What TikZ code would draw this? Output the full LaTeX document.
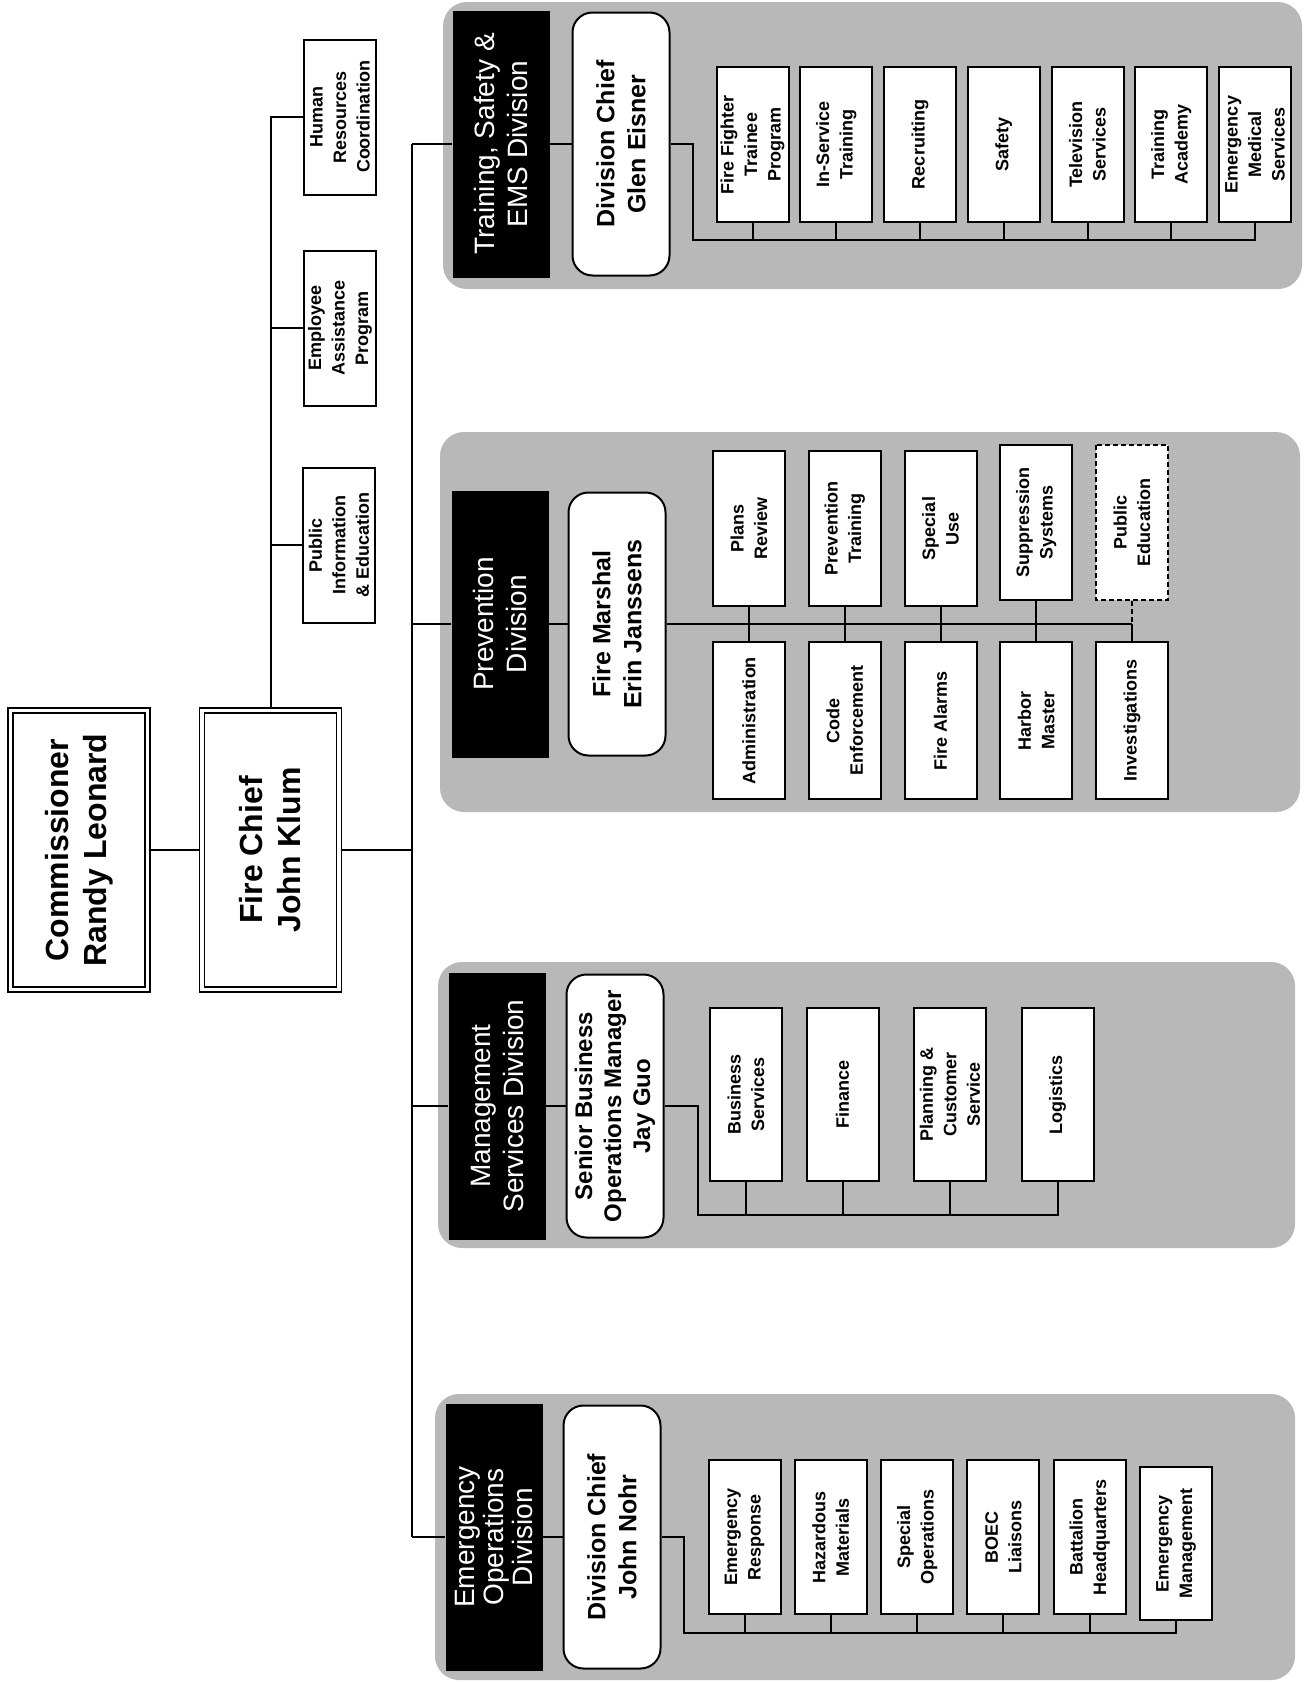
\documentclass[tikz,border=0pt]{standalone}
\usepackage{fontspec}
\setmainfont{Liberation Sans}
\begin{document}
\begin{tikzpicture}[x=1pt,y=-1pt,
  link/.style={line width=2pt},
  panel/.style={fill=black!28,rounded corners=24pt},
  bossbox/.style={draw,line width=1.6pt,double=white,double distance=3.5pt,fill=white,outer sep=3.4pt,rotate=90,minimum width=279pt,minimum height=137pt,inner sep=0pt,align=center,font=\bfseries\fontsize{32}{38}\selectfont},
  divhead/.style={fill=black,text=white,rotate=90,minimum width=267pt,minimum height=97pt,inner sep=0pt,align=center,font=\fontsize{28}{33}\selectfont},
  headbox/.style={draw,line width=2pt,fill=white,rounded corners=20pt,rotate=90,minimum width=263pt,minimum height=97pt,inner sep=0pt,align=center,font=\bfseries\fontsize{25}{31}\selectfont},
  unitbox/.style={draw,line width=2pt,fill=white,rotate=90,minimum width=155pt,minimum height=72pt,inner sep=0pt,align=center,font=\bfseries\fontsize{18}{23.5}\selectfont}]

\useasboundingbox (0,0) rectangle (1310,1684);
\fill[white] (0,0) rectangle (1310,1684);

% division panels
\fill[panel] (443,2) rectangle (1302,289);
\fill[panel] (440,432) rectangle (1300,812);
\fill[panel] (438,962) rectangle (1295,1248);
\fill[panel] (435,1394) rectangle (1295,1680);

% top
\node[bossbox] (comm) at (79,850) {Commissioner\\Randy Leonard};
\node[bossbox] (chief) at (270.5,850) {Fire Chief\\John Klum};

% staff
\node[unitbox] (hrc) at (340,117) {Human\\Resources\\Coordination};
\node[unitbox] (eap) at (340,328) {Employee\\Assistance\\Program};
\node[unitbox] (pie) at (339,545) {Public\\Information\\\& Education};

% divisions
\node[divhead] (tsed) at (501,144) {Training, Safety \&\\EMS Division};
\node[divhead] (prvd) at (500,624) {Prevention\\Division};
\node[divhead] (msd) at (497,1106) {Management\\Services Division};
\node[divhead,font=\fontsize{28}{29}\selectfont] (eod) at (494,1537) {Emergency\\Operations\\Division};

\node[headbox] (eisner) at (621,144) {Division Chief\\Glen Eisner};
\node[headbox] (janssens) at (617,624) {Fire Marshal\\Erin Janssens};
\node[headbox,font=\bfseries\fontsize{24}{29}\selectfont] (guo) at (615,1106) {Senior Business\\Operations Manager\\Jay Guo};
\node[headbox] (nohr) at (612,1537) {Division Chief\\John Nohr};

% training, safety & ems
\node[unitbox] (fft) at (752.5,144.5) {Fire Fighter\\Trainee\\Program};
\node[unitbox] (ist) at (836.25,144.5) {In-Service\\Training};
\node[unitbox] (rec) at (920,144.5) {Recruiting};
\node[unitbox] (saf) at (1003.75,144.5) {Safety};
\node[unitbox] (tvs) at (1087.5,144.5) {Television\\Services};
\node[unitbox] (tac) at (1171.25,144.5) {Training\\Academy};
\node[unitbox] (ems) at (1255,144.5) {Emergency\\Medical\\Services};

% prevention
\node[unitbox] (plr) at (749,528.5) {Plans\\Review};
\node[unitbox] (prt) at (844.75,528.5) {Prevention\\Training};
\node[unitbox] (spu) at (940.5,528.5) {Special\\Use};
\node[unitbox] (sups) at (1036.25,522.5) {Suppression\\Systems};
\node[unitbox,dash pattern=on 5pt off 3pt] (pued) at (1132,522.5) {Public\\Education};
\node[unitbox,minimum width=157pt] (adm) at (749,720.5) {Administration};
\node[unitbox,minimum width=157pt] (coe) at (844.75,720.5) {Code\\Enforcement};
\node[unitbox,minimum width=157pt] (fal) at (940.5,720.5) {Fire Alarms};
\node[unitbox,minimum width=157pt] (hbm) at (1036.25,720.5) {Harbor\\Master};
\node[unitbox,minimum width=157pt] (inv) at (1132,720.5) {Investigations};

% management services
\node[unitbox,minimum width=173pt] (bsv) at (746,1094.5) {Business\\Services};
\node[unitbox,minimum width=173pt] (fin) at (842.5,1094.5) {Finance};
\node[unitbox,minimum width=173pt] (pcs) at (950,1094.5) {Planning \&\\Customer\\Service};
\node[unitbox,minimum width=173pt] (log) at (1057.5,1094.5) {Logistics};

% emergency operations
\node[unitbox,minimum width=154pt] (ers) at (744.5,1537) {Emergency\\Response};
\node[unitbox,minimum width=154pt] (haz) at (830.8,1537) {Hazardous\\Materials};
\node[unitbox,minimum width=154pt] (spo) at (917.1,1537) {Special\\Operations};
\node[unitbox,minimum width=154pt] (boec) at (1003.4,1537) {BOEC\\Liaisons};
\node[unitbox,minimum width=154pt] (bhq) at (1089.7,1537) {Battalion\\Headquarters};
\node[unitbox,minimum width=153pt] (emg) at (1176,1543.5) {Emergency\\Management};

% lines
\draw[link] (comm) -- (chief);
\draw[link] (chief) -- (chief |- hrc) -- (hrc);
\draw[link] (eap) -- (eap -| chief);
\draw[link] (pie) -- (pie -| chief);

\coordinate (trunk) at (412,850);
\draw[link] (chief) -- (trunk);
\draw[link] (tsed -| trunk) -- (eod -| trunk);
\draw[link] (tsed) -- (tsed -| trunk);
\draw[link] (prvd) -- (prvd -| trunk);
\draw[link] (msd) -- (msd -| trunk);
\draw[link] (eod) -- (eod -| trunk);

\draw[link] (tsed) -- (eisner);
\draw[link] (prvd) -- (janssens);
\draw[link] (msd) -- (guo);
\draw[link] (eod) -- (nohr);

\coordinate (tsebus) at (693,240);
\draw[link] (eisner) -| (tsebus) -| (ems);
\draw[link] (fft) -- (fft |- tsebus);
\draw[link] (ist) -- (ist |- tsebus);
\draw[link] (rec) -- (rec |- tsebus);
\draw[link] (saf) -- (saf |- tsebus);
\draw[link] (tvs) -- (tvs |- tsebus);
\draw[link] (tac) -- (tac |- tsebus);

\draw[link] (janssens) -- (janssens -| pued);
\draw[link] (plr) -- (adm);
\draw[link] (prt) -- (coe);
\draw[link] (spu) -- (fal);
\draw[link] (sups) -- (hbm);
\draw[link,dash pattern=on 5pt off 3pt] (pued) -- (pued |- janssens);
\draw[link] (inv) -- (inv |- janssens);

\coordinate (msdbus) at (698,1215);
\draw[link] (guo) -| (msdbus) -| (log);
\draw[link] (bsv) -- (bsv |- msdbus);
\draw[link] (fin) -- (fin |- msdbus);
\draw[link] (pcs) -- (pcs |- msdbus);

\coordinate (eodbus) at (684,1633);
\draw[link] (nohr) -| (eodbus) -| (emg);
\draw[link] (ers) -- (ers |- eodbus);
\draw[link] (haz) -- (haz |- eodbus);
\draw[link] (spo) -- (spo |- eodbus);
\draw[link] (boec) -- (boec |- eodbus);
\draw[link] (bhq) -- (bhq |- eodbus);

\end{tikzpicture}
\end{document}
